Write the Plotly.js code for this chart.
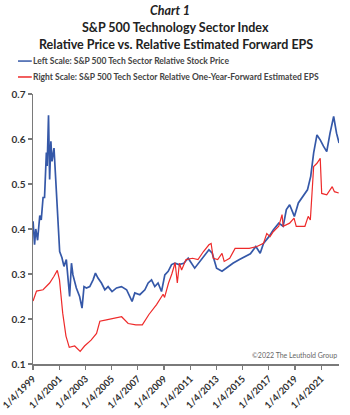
<!DOCTYPE html>
<html><head><meta charset="utf-8">
<script src="https://cdn.plot.ly/plotly-3.0.1.min.js"></script>
<style>html,body{margin:0;padding:0;background:#fff}#chart{width:350px;height:415px}</style>
</head><body><div id="chart"></div>
<script>
// Blue: S&P 500 Tech Sector Relative Stock Price (left scale)
const priceDates = ['1999-01-04','1999-02-15','1999-03-20','1999-05-10','1999-07-10','1999-08-20','1999-10-10','1999-11-20','2000-01-10','2000-02-01','2000-03-10','2000-04-10','2000-05-15','2000-06-15','2000-08-10','2000-10-10','2000-12-01','2001-01-15','2001-03-20','2001-05-15','2001-07-20','2001-09-05','2001-10-20','2001-12-10','2002-01-20','2002-04-25','2002-07-25','2002-10-01','2002-11-25','2003-02-01','2003-05-05','2003-08-05','2003-10-10','2003-12-20','2004-03-25','2004-06-28','2004-09-27','2005-01-15','2005-05-20','2005-10-05','2006-02-25','2006-07-28','2006-10-12','2007-03-01','2007-07-20','2007-10-20','2008-01-22','2008-04-22','2008-07-22','2008-10-26','2009-01-27','2009-05-01','2009-08-03','2009-11-03','2010-02-25','2010-07-10','2010-11-10','2011-05-10','2012-01-10','2012-06-10','2012-09-10','2013-01-10','2013-06-10','2013-10-10','2014-04-10','2014-10-10','2015-08-10','2016-01-10','2016-05-10','2016-08-10','2017-01-10','2017-05-10','2017-10-10','2018-02-10','2018-05-10','2018-08-10','2018-12-20','2019-04-10','2019-09-10','2019-12-20','2020-03-20','2020-06-10','2020-09-10','2020-12-10','2021-03-10','2021-06-10','2021-09-10','2021-12-20','2022-03-10','2022-05-20'];
const priceValues = [0.417,0.365,0.40,0.375,0.43,0.42,0.47,0.47,0.57,0.54,0.653,0.51,0.595,0.55,0.58,0.50,0.41,0.350,0.336,0.317,0.332,0.291,0.250,0.324,0.298,0.269,0.250,0.224,0.272,0.269,0.272,0.287,0.302,0.291,0.280,0.265,0.272,0.261,0.269,0.272,0.265,0.239,0.258,0.254,0.265,0.280,0.287,0.272,0.280,0.261,0.298,0.306,0.321,0.324,0.321,0.324,0.335,0.313,0.339,0.354,0.346,0.313,0.306,0.313,0.324,0.332,0.345,0.361,0.346,0.368,0.383,0.398,0.413,0.406,0.443,0.454,0.428,0.458,0.476,0.487,0.517,0.569,0.609,0.598,0.584,0.572,0.613,0.65,0.613,0.591];

// Red: S&P 500 Tech Sector Relative One-Year-Forward Estimated EPS (right scale)
const epsDates = ['1999-01-04','1999-04-10','1999-10-10','2000-04-10','2000-08-10','2000-11-10','2001-01-10','2001-04-10','2001-07-10','2001-10-10','2002-03-10','2002-08-10','2002-12-10','2003-06-10','2003-11-10','2004-02-10','2004-08-10','2005-03-10','2005-10-10','2006-04-10','2006-11-10','2007-05-10','2007-11-10','2008-06-10','2008-09-10','2008-12-10','2009-01-20','2009-05-10','2009-08-10','2009-11-10','2010-01-10','2010-03-10','2010-05-10','2010-09-10','2011-03-10','2011-08-10','2012-01-10','2012-06-10','2012-08-10','2012-10-10','2013-02-10','2013-06-10','2013-08-10','2014-01-10','2014-06-10','2015-07-10','2016-02-10','2016-08-10','2016-11-10','2017-02-10','2017-05-10','2017-10-10','2018-01-10','2018-02-10','2018-08-10','2018-12-10','2019-02-10','2019-10-10','2020-01-10','2020-03-10','2020-06-10','2020-09-10','2020-12-10','2021-01-20','2021-06-10','2021-11-10','2022-01-10','2022-05-10'];
const epsValues = [0.24,0.262,0.265,0.28,0.295,0.308,0.287,0.213,0.162,0.137,0.14,0.128,0.14,0.153,0.168,0.195,0.198,0.202,0.205,0.19,0.187,0.187,0.21,0.232,0.243,0.255,0.248,0.28,0.30,0.325,0.28,0.324,0.309,0.332,0.335,0.332,0.35,0.365,0.368,0.335,0.332,0.346,0.328,0.335,0.357,0.357,0.361,0.368,0.39,0.383,0.394,0.406,0.432,0.406,0.413,0.424,0.406,0.406,0.428,0.42,0.539,0.546,0.557,0.479,0.476,0.494,0.483,0.48];

const tickDates = ['1999-01-04','2001-01-04','2003-01-04','2005-01-04','2007-01-04','2009-01-04','2011-01-04','2013-01-04','2015-01-04','2017-01-04','2019-01-04','2021-01-04'];
const tickLabels = ['1/4/1999','1/4/2001','1/4/2003','1/4/2005','1/4/2007','1/4/2009','1/4/2011','1/4/2013','1/4/2015','1/4/2017','1/4/2019','1/4/2021'];
const yTicks = [0.1,0.2,0.3,0.4,0.5,0.6,0.7];
const titleLines = ['Chart 1','S&P 500 Technology Sector Index','Relative Price vs. Relative Estimated Forward EPS'];
const legendLabels = ['Left Scale: S&P 500 Tech Sector Relative Stock Price','Right Scale: S&P 500 Tech Sector Relative One-Year-Forward Estimated EPS'];
const sourceNote = '©2022 The Leuthold Group';

const BLUE = '#3558a8', RED = '#ee2a2a', AX = '#7a7a7a', TXT = '#333333';
const F = 'Lato, "Open Sans", sans-serif';

const traces = [
  {x: priceDates, y: priceValues, type: 'scatter', mode: 'lines', line: {color: BLUE, width: 1.7}, name: legendLabels[0], showlegend: false},
  {x: epsDates, y: epsValues, type: 'scatter', mode: 'lines', yaxis: 'y2', line: {color: RED, width: 1.2}, name: legendLabels[1], showlegend: false}
];

const titleFont = {family: F, size: 12.5, color: '#222', weight: 'bold'};
const legFont = {family: F, size: 8.5, color: '#444', weight: 'bold'};

const layout = {
  width: 350, height: 415,
  margin: {l: 33, r: 11, t: 94, b: 51},
  paper_bgcolor: '#fff', plot_bgcolor: '#fff',
  xaxis: {
    type: 'date', range: ['1999-01-02', '2022-05-18'],
    tickmode: 'array', tickvals: tickDates, ticktext: tickLabels, tickangle: -45,
    tickfont: {family: F, size: 9.5, color: TXT, weight: 'bold'}, ticklabeloverflow: 'allow',
    showline: true, linecolor: AX, linewidth: 1.5, ticks: 'outside', ticklen: 4, tickcolor: AX, tickwidth: 1.2,
    showgrid: false, zeroline: false, fixedrange: true
  },
  yaxis: {
    range: [0.1, 0.7], tickmode: 'array', tickvals: yTicks, ticktext: yTicks.map(v => v.toFixed(1)),
    tickfont: {family: F, size: 10, color: TXT, weight: 'bold'},
    showline: true, linecolor: AX, linewidth: 1.5, ticks: 'outside', ticklen: 4, tickcolor: AX, tickwidth: 1.2,
    showgrid: false, zeroline: false, fixedrange: true
  },
  yaxis2: {range: [0.1, 0.7], overlaying: 'y', side: 'right', visible: false, fixedrange: true},
  shapes: [
    {type: 'line', xref: 'paper', yref: 'paper', x0: -0.049, x1: -0.004, y0: 1.122, y1: 1.122, line: {color: BLUE, width: 1.5}},
    {type: 'line', xref: 'paper', yref: 'paper', x0: -0.049, x1: -0.004, y0: 1.063, y1: 1.063, line: {color: RED, width: 1.5}}
  ],
  annotations: [
    {text: '<i>' + titleLines[0] + '</i>', xref: 'paper', yref: 'paper', x: 0.448, y: 1.309, xanchor: 'center', yanchor: 'middle', showarrow: false, font: titleFont, borderpad: 0},
    {text: titleLines[1], xref: 'paper', yref: 'paper', x: 0.467, y: 1.2463, xanchor: 'center', yanchor: 'middle', showarrow: false, font: titleFont, borderpad: 0},
    {text: titleLines[2], xref: 'paper', yref: 'paper', x: 0.467, y: 1.1833, xanchor: 'center', yanchor: 'middle', showarrow: false, font: titleFont, borderpad: 0},
    {text: legendLabels[0], xref: 'paper', yref: 'paper', x: -0.002, y: 1.122, xanchor: 'left', yanchor: 'middle', showarrow: false, font: legFont, borderpad: 0},
    {text: legendLabels[1], xref: 'paper', yref: 'paper', x: -0.002, y: 1.063, xanchor: 'left', yanchor: 'middle', showarrow: false, font: legFont, borderpad: 0},
    {text: sourceNote, xref: 'paper', yref: 'paper', x: 1.0, y: 0.01, xanchor: 'right', yanchor: 'bottom', showarrow: false, font: {family: F, size: 7, color: '#666'}}
  ]
};

Plotly.newPlot('chart', traces, layout, {displayModeBar: false, staticPlot: true});
</script></body></html>
